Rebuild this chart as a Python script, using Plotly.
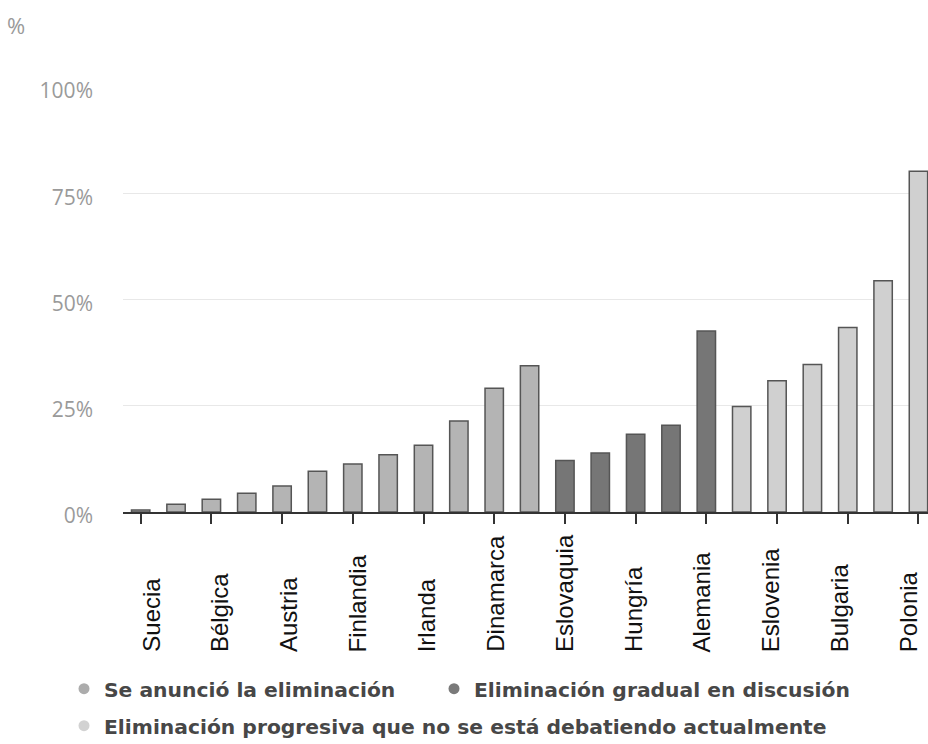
import plotly.graph_objects as go

# Share of coal in each country's power generation, grouped by phase-out status
countries = [
    "Suecia", "Letonia", "Bélgica", "Francia", "Austria", "Reino Unido",
    "Finlandia", "Italia", "Irlanda", "Portugal", "Dinamarca", "Países Bajos",
    "Eslovaquia", "España", "Hungría", "Grecia", "Alemania",
    "Croacia", "Eslovenia", "Rumanía", "Bulgaria", "República Checa", "Polonia",
]
values = [
    0.5, 1.8, 3.0, 4.4, 6.1, 9.6,
    11.3, 13.5, 15.7, 21.4, 29.1, 34.4,
    12.1, 13.9, 18.3, 20.4, 42.6,
    24.8, 30.9, 34.7, 43.4, 54.4, 80.2,
]
status = ["anunciada"] * 12 + ["discusion"] * 5 + ["sin_debate"] * 6

# Only every other country carries a tick and a label
tick_labels = [
    "Suecia", "Bélgica", "Austria", "Finlandia", "Irlanda", "Dinamarca",
    "Eslovaquia", "Hungría", "Alemania", "Eslovenia", "Bulgaria", "Polonia",
]

group_order = ["anunciada", "discusion", "sin_debate"]
group_names = {
    "anunciada": "Se anunció la eliminación",
    "discusion": "Eliminación gradual en discusión",
    "sin_debate": "Eliminación progresiva que no se está debatiendo actualmente",
}
bar_colors = {"anunciada": "#b4b4b4", "discusion": "#767676", "sin_debate": "#d0d0d0"}
dot_colors = {"anunciada": "#acacac", "discusion": "#7a7a7a", "sin_debate": "#d2d2d2"}
legend_of = {"anunciada": "legend", "discusion": "legend2", "sin_debate": "legend3"}

y_ticks = [0, 25, 50, 75, 100]
y_tick_text = [f"{v}%" for v in y_ticks]

W, H = 928, 744
M_L, M_R, M_T, M_B = 123, 0, 87, 232
plot_w = W - M_L - M_R
plot_h = H - M_T - M_B

fig = go.Figure()

for g in group_order:
    xs = [c for c, s in zip(countries, status) if s == g]
    ys = [v for v, s in zip(values, status) if s == g]
    fig.add_trace(go.Bar(
        x=xs, y=ys, width=0.52,
        marker=dict(color=bar_colors[g], line=dict(color="#555555", width=1.5)),
        showlegend=False, hoverinfo="x+y",
    ))

# Round legend markers
for g in group_order:
    fig.add_trace(go.Scatter(
        x=[None], y=[None], mode="markers", name=group_names[g],
        legend=legend_of[g],
        marker=dict(symbol="circle", size=11, color=dot_colors[g]),
    ))

annotations = []
for i, lab in enumerate(tick_labels):
    annotations.append(dict(
        x=lab, xref="x", y=(M_T + plot_h - 654) / plot_h, yref="paper",
        text=lab, textangle=-90, showarrow=False,
        xanchor="center", yanchor="bottom", xshift=10 - 1.8 * i,
        font=dict(family="Liberation Sans, Arial", size=24, color="#111111"),
    ))

annotations.append(dict(
    x=(5 - M_L) / plot_w, xref="paper", y=(M_T + plot_h - 25) / plot_h, yref="paper",
    text="%", showarrow=False, xanchor="left", yanchor="middle",
    font=dict(family="Open Sans", size=22, color="#9a9a9a"),
))

legend_font = dict(family="DejaVu Sans", size=20.3, color="#474747", weight="bold")


def legend_box(x_px, top_px):
    return dict(
        orientation="h", xref="container", yref="container",
        x=x_px / W, y=1 - top_px / H, xanchor="left", yanchor="top",
        font=legend_font, itemwidth=30, bgcolor="rgba(0,0,0,0)",
    )


fig.update_layout(
    width=W, height=H,
    margin=dict(l=M_L, r=M_R, t=M_T, b=M_B),
    plot_bgcolor="white", paper_bgcolor="white",
    barmode="relative",
    xaxis=dict(
        type="category", categoryorder="array", categoryarray=countries,
        range=[-0.5, 22.27],
        tickmode="array", tickvals=tick_labels, showticklabels=False,
        ticks="outside", ticklen=10, tickwidth=2, tickcolor="#333333",
        showline=True, linecolor="#333333", linewidth=2,
        showgrid=False, zeroline=False,
    ),
    yaxis=dict(
        range=[0, 100], tickmode="array", tickvals=y_ticks, ticktext=y_tick_text,
        showgrid=True, gridcolor="#e8e8e8", gridwidth=1,
        zeroline=False, showline=False,
        ticklabelstandoff=29, ticklabelshift=4,
        tickfont=dict(family="Open Sans", size=21, color="#9a9a9a"),
    ),
    legend=legend_box(64, 669),
    legend2=legend_box(434, 669),
    legend3=legend_box(64, 706),
    annotations=annotations,
)

fig.write_html("out.html")
